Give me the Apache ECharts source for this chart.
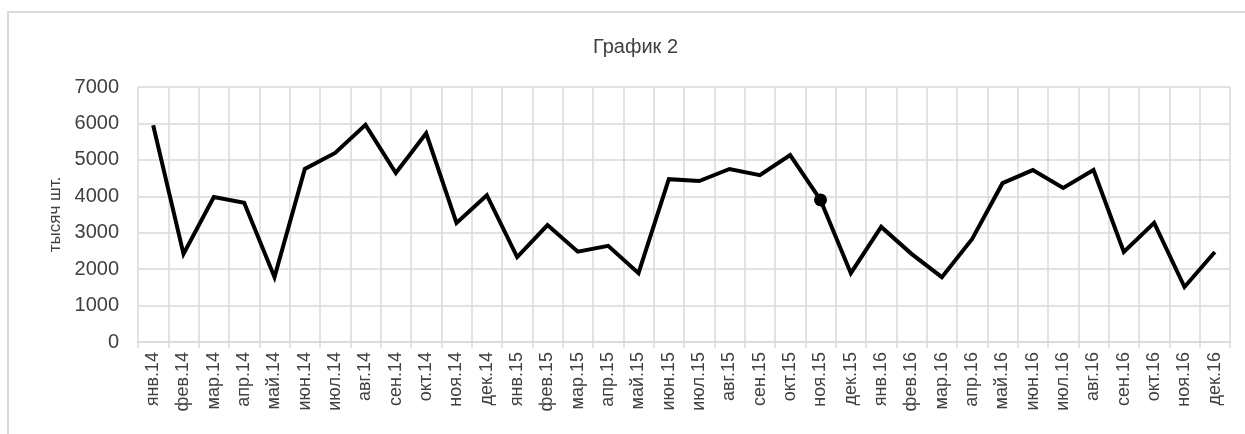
<!DOCTYPE html>
<html>
<head>
<meta charset="utf-8">
<script src="https://cdn.jsdelivr.net/npm/echarts@6/dist/echarts.min.js"></script>
<style>
  html, body { margin: 0; padding: 0; background: #fff; }
  #frame { position: absolute; left: 7px; top: 11px; width: 1250px; height: 440px; border: 2px solid #d9d9d9; box-sizing: border-box; }
  #chart { position: absolute; left: 0; top: 0; width: 1245px; height: 434px; }
</style>
</head>
<body>
<div id="frame"></div>
<div id="chart"></div>
<script>
// месяцы
var months = ['янв.14','фев.14','мар.14','апр.14','май.14','июн.14','июл.14','авг.14','сен.14','окт.14','ноя.14','дек.14',
  'янв.15','фев.15','мар.15','апр.15','май.15','июн.15','июл.15','авг.15','сен.15','окт.15','ноя.15','дек.15',
  'янв.16','фев.16','мар.16','апр.16','май.16','июн.16','июл.16','авг.16','сен.16','окт.16','ноя.16','дек.16'];

// тысяч шт.
var values = [5950, 2420, 3980, 3820, 1780, 4750, 5190, 5960, 4640, 5730, 3270, 4030,
  2330, 3210, 2480, 2640, 1890, 4470, 4420, 4750, 4580, 5130, 3900, 1890,
  3160, 2420, 1780, 2830, 4360, 4720, 4230, 4720, 2470, 3270, 1510, 2470];

var markedMonth = 'ноя.15';

var chart = echarts.init(document.getElementById('chart'));

var seriesData = values.map(function (v, i) {
  if (months[i] === markedMonth) {
    return { value: v, symbol: 'circle', symbolSize: 13, itemStyle: { color: '#000' } };
  }
  return v;
});

chart.setOption({
  animation: false,
  title: {
    text: 'График 2',
    left: 588,
    top: 32,
    textStyle: { fontFamily: 'Liberation Sans', fontSize: 20, fontWeight: 'normal', color: '#404040' }
  },
  grid: { left: 138, right: 15, top: 87, bottom: 92 },
  xAxis: {
    type: 'category',
    data: months,
    boundaryGap: true,
    axisLine: { lineStyle: { color: '#d9d9d9', width: 1.5 } },
    axisTick: { show: true, interval: 0, length: 6, lineStyle: { color: '#d9d9d9', width: 1.5 } },
    splitLine: { show: true, interval: 0, lineStyle: { color: '#d9d9d9', width: 1.5 } },
    axisLabel: {
      interval: 0,
      rotate: 90,
      margin: 10,
      fontFamily: 'Liberation Sans',
      fontSize: 18,
      color: '#404040'
    }
  },
  yAxis: {
    type: 'value',
    min: 0,
    max: 7000,
    interval: 1000,
    name: 'тысяч шт.',
    nameLocation: 'middle',
    nameGap: 74,
    nameTextStyle: { fontFamily: 'Liberation Sans', fontSize: 17, color: '#404040' },
    axisLine: { show: false },
    axisTick: { show: false },
    splitLine: { lineStyle: { color: '#d9d9d9', width: 1.5 } },
    axisLabel: {
      fontFamily: 'Liberation Sans', fontSize: 20, color: '#404040', margin: 19,
      formatter: function (v) { return String(v); }
    }
  },
  series: [{
    type: 'line',
    data: seriesData,
    symbol: 'none',
    showSymbol: true,
    lineStyle: { color: '#000', width: 4, join: 'miter' },
    itemStyle: { color: '#000' }
  }]
});
</script>
</body>
</html>
